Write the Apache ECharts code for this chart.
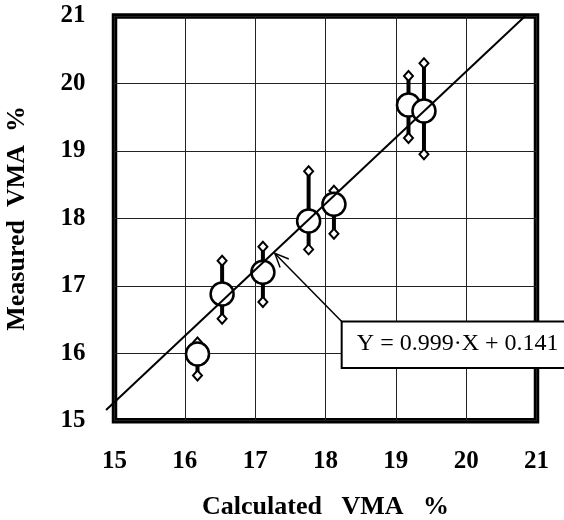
<!DOCTYPE html>
<html>
<head>
<meta charset="utf-8">
<script src="https://cdn.jsdelivr.net/npm/echarts@6/dist/echarts.min.js"></script>
<style>
  html, body { margin: 0; padding: 0; background: #fff; }
  #chart { width: 564px; height: 520px; }
</style>
</head>
<body>
<div id="chart"></div>
<script>
// calculated vs measured VMA, with min/max range of measurements
var calcVma = [16.18, 16.53, 17.11, 17.76, 18.12, 19.18, 19.40];
var measVma = [15.99, 16.88, 17.20, 17.96, 18.21, 19.68, 19.59];
var measHigh = [16.16, 17.37, 17.58, 18.70, 18.41, 20.11, 20.30];
var measLow = [15.67, 16.51, 16.76, 17.54, 17.77, 19.19, 18.95];

// fitted line as drawn on the chart
var fitX = [14.88, 20.84];
var fitY = [15.16, 21.0];
var fitLabel = 'Y = 0.999·X + 0.141';

var axisMin = 15, axisMax = 21, axisStep = 1;

var serif = '"Liberation Serif", "Times New Roman", serif';

var myChart = echarts.init(document.getElementById('chart'), null, { renderer: 'canvas' });

var points = calcVma.map(function (x, i) { return [x, measVma[i]]; });
var bars = calcVma.map(function (x, i) { return [x, measLow[i], measHigh[i]]; });
var ends = [];
calcVma.forEach(function (x, i) {
    ends.push([x, measHigh[i]]);
    ends.push([x, measLow[i]]);
});

function renderBar(params, api) {
    var p1 = api.coord([api.value(0), api.value(1)]);
    var p2 = api.coord([api.value(0), api.value(2)]);
    return {
        type: 'line',
        shape: { x1: p1[0], y1: p1[1], x2: p2[0], y2: p2[1] },
        style: { stroke: '#000', lineWidth: 4 }
    };
}

function renderFit(params, api) {
    var p1 = api.coord([fitX[0], fitY[0]]);
    var p2 = api.coord([fitX[1], fitY[1]]);
    return {
        type: 'line',
        shape: { x1: p1[0], y1: p1[1], x2: p2[0], y2: p2[1] },
        style: { stroke: '#000', lineWidth: 2 }
    };
}

function renderNote(params, api) {
    var tip = api.coord([17.28, 17.48]);
    var c1 = api.coord([18.23, 16.47]);
    var c2 = api.coord([21.42, 15.78]);
    var dx = c1[0] - tip[0], dy = c1[1] - tip[1];
    var len = Math.sqrt(dx * dx + dy * dy);
    var ux = dx / len, uy = dy / len;
    var a = 24 * Math.PI / 180, w = 15;
    var wing = function (s) {
        var cx = ux * Math.cos(s * a) - uy * Math.sin(s * a);
        var cy = ux * Math.sin(s * a) + uy * Math.cos(s * a);
        return [tip[0] + cx * w, tip[1] + cy * w];
    };
    return {
        type: 'group',
        children: [
            { type: 'line', shape: { x1: tip[0], y1: tip[1], x2: c1[0], y2: c1[1] },
              style: { stroke: '#000', lineWidth: 1.5 } },
            { type: 'polyline', shape: { points: [wing(1), tip, wing(-1)] },
              style: { stroke: '#000', lineWidth: 1.5, fill: null } },
            { type: 'rect', shape: { x: c1[0], y: c1[1], width: c2[0] - c1[0], height: c2[1] - c1[1] },
              style: { fill: '#fff', stroke: '#000', lineWidth: 2 } },
            { type: 'text',
              style: { text: fitLabel, x: c1[0] + 116, y: (c1[1] + c2[1]) / 2 - 1,
                       fill: '#000', font: '24px ' + serif, align: 'center', verticalAlign: 'middle' } }
        ]
    };
}

var option = {
    animation: false,
    backgroundColor: '#fff',
    grid: {
        left: 114.5, right: 27.5, top: 16, bottom: 99.3,
        outerBoundsMode: 'none',
        show: true, borderColor: '#000', borderWidth: 5.5
    },
    xAxis: {
        type: 'value',
        min: axisMin, max: axisMax, interval: axisStep,
        name: 'Calculated   VMA   %',
        nameLocation: 'middle', nameGap: 74,
        nameTextStyle: { fontFamily: serif, fontWeight: 'bold', fontSize: 26, color: '#000' },
        axisLine: { show: false },
        axisTick: { show: false },
        axisLabel: { margin: 28, fontFamily: serif, fontWeight: 'bold', fontSize: 25, color: '#000' },
        splitLine: { show: true, lineStyle: { color: '#222', width: 1 } }
    },
    yAxis: {
        type: 'value',
        min: axisMin, max: axisMax, interval: axisStep,
        name: 'Measured  VMA  %',
        nameLocation: 'middle', nameGap: 84, nameRotate: 90,
        nameTextStyle: { fontFamily: serif, fontWeight: 'bold', fontSize: 26, color: '#000' },
        axisLine: { show: false },
        axisTick: { show: false },
        axisLabel: { margin: 29, fontFamily: serif, fontWeight: 'bold', fontSize: 25, color: '#000' },
        splitLine: { show: true, lineStyle: { color: '#222', width: 1 } }
    },
    series: [
        {
            type: 'custom',
            renderItem: renderBar,
            data: bars,
            z: 2
        },
        {
            type: 'scatter',
            data: ends,
            symbol: 'diamond',
            symbolSize: [9, 10],
            itemStyle: { color: '#fff', borderColor: '#000', borderWidth: 2, opacity: 1 },
            z: 3
        },
        {
            type: 'scatter',
            data: points,
            symbol: 'circle',
            symbolSize: 23,
            itemStyle: { color: '#fff', borderColor: '#000', borderWidth: 2.5, opacity: 1 },
            z: 4
        },
        {
            type: 'custom',
            renderItem: renderFit,
            data: [[fitX[0], fitY[0]]],
            clip: false,
            silent: true,
            z: 5
        },
        {
            type: 'custom',
            renderItem: renderNote,
            data: [[0, 0]],
            clip: false,
            silent: true,
            z: 6
        }
    ]
};

myChart.setOption(option);
</script>
</body>
</html>
